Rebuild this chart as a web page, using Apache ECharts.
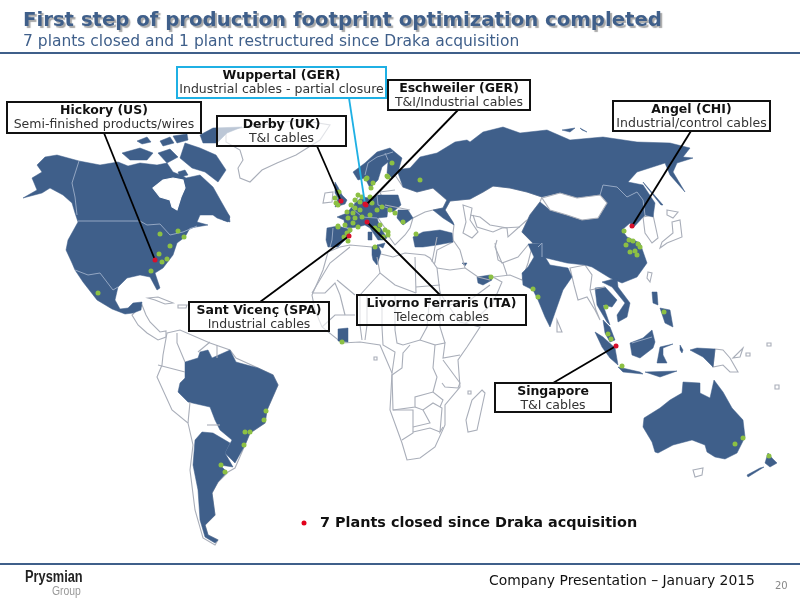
<!DOCTYPE html>
<html>
<head>
<meta charset="utf-8">
<title>Production footprint</title>
<script src="https://cdn.jsdelivr.net/npm/echarts@6/dist/echarts.min.js"></script>
<style>
html,body{margin:0;padding:0;background:#fff;}
#container{width:800px;height:600px;}
</style>
</head>
<body>
<div id="container"></div>
<script>
// map units: x to the right, y downwards (flipped for geojson in toMap)

// countries without plants (white with grey outline)
var outlineLand={
	greenland:[[226,130],[300,120],[330,125],[320,140],[296,155],[277,163],[262,170],[250,182],[240,178],[238,168],[243,160],[240,150],[226,142]],
	ireland:[[325,193],[333,192],[332,202],[323,203]],
	easternEurope:[[395,175],[403,187],[417,192],[433,188],[447,200],[443,208],[433,210],[425,212],[413,218],[410,228],[405,235],[395,245],[390,238],[385,228],[378,218],[385,205],[380,192]],
	centralAsia:[[450,201],[470,199],[483,192],[493,186],[510,188],[527,192],[542,197],[540,202],[530,215],[522,232],[533,243],[528,263],[522,280],[510,275],[493,277],[502,282],[493,303],[480,315],[462,325],[452,325],[445,305],[437,285],[432,270],[435,262],[437,250],[453,242],[453,233],[454,225],[445,210]],
	africa:[[328,252],[340,247],[350,245],[372,247],[381,254],[393,257],[405,253],[425,255],[430,258],[437,268],[440,293],[450,308],[460,322],[480,327],[467,347],[458,360],[460,387],[445,405],[445,425],[435,447],[420,458],[407,460],[402,443],[390,410],[392,373],[383,352],[380,345],[360,342],[342,343],[322,327],[315,310],[312,295],[323,270]],
	madagascar:[[482,390],[485,393],[477,430],[468,432],[466,420],[472,400]],
	korea:[[643,217],[653,215],[658,238],[652,243],[645,233]],
	hokkaido:[[667,210],[678,212],[673,218],[667,215]],
	honshu:[[672,222],[680,220],[682,237],[667,243],[660,248],[662,242],[673,233]],
	taiwan:[[648,272],[652,273],[650,282],[647,278]],
	myanmar:[[570,268],[585,265],[592,275],[590,290],[596,310],[600,320],[595,310],[587,297],[578,300],[574,285]],
	sriLanka:[[557,320],[562,332],[557,332]],
	papua:[[715,349],[723,350],[730,358],[738,372],[730,372],[723,365],[713,367]],
	solomon:[[733,358],[743,348],[740,357]],
	tasmania:[[693,470],[703,468],[702,475],[695,477]],
	centralAmerica:[[142,305],[146,315],[150,322],[160,332],[166,331],[166,337],[158,340],[147,333],[138,325],[132,315]],
	southAmerica:[[167,333],[180,330],[210,343],[230,350],[236,358],[258,368],[273,375],[278,385],[267,410],[265,423],[250,433],[245,445],[235,468],[228,472],[218,482],[212,493],[215,515],[205,525],[208,535],[218,540],[215,545],[203,538],[195,510],[190,470],[193,445],[188,423],[172,410],[157,377],[162,365],[163,355]],
	cuba:[[148,298],[158,297],[173,303],[165,304],[155,300]],
	hispaniola:[[178,305],[187,305],[186,308],[178,308]],
	isleA:[[374,357],[377,357],[377,360],[374,360]],
	isleB:[[468,391],[471,391],[471,394],[468,394]],
	isleC:[[775,385],[779,385],[779,389],[775,389]],
	isleD:[[767,343],[771,343],[771,346],[767,346]],
	isleE:[[746,353],[750,353],[750,356],[746,356]]
};

// countries with plants (blue)
var plantLand={
	northAmerica:[[45,157],[57,155],[79,161],[100,165],[118,162],[128,166],[140,163],[157,165],[167,163],[173,172],[183,176],[186,178],[200,175],[213,187],[222,203],[230,217],[228,222],[217,218],[213,215],[200,215],[197,222],[208,225],[190,228],[185,237],[177,243],[173,255],[163,268],[155,273],[160,288],[157,290],[150,277],[140,275],[127,278],[118,287],[115,300],[120,309],[128,308],[133,303],[142,302],[141,310],[133,313],[125,314],[112,309],[97,300],[83,282],[75,270],[72,263],[66,250],[68,240],[78,222],[75,213],[72,203],[63,195],[50,188],[42,193],[23,198],[37,190],[32,178],[42,172],[37,165]],
	ellesmere:[[200,135],[213,128],[242,127],[227,133],[217,143],[203,143]],
	baffin:[[185,143],[200,148],[216,155],[226,170],[218,182],[205,172],[192,168],[180,158]],
	victoria:[[122,153],[140,148],[153,153],[147,160],[130,160]],
	banks:[[137,141],[147,137],[151,142],[142,144]],
	arcticA:[[160,141],[170,137],[174,143],[163,146]],
	arcticB:[[173,136],[187,134],[188,140],[177,143]],
	arcticC:[[158,153],[170,149],[178,157],[167,163]],
	arcticD:[[178,172],[185,170],[188,175],[180,177]],
	newfoundland:[[220,213],[229,215],[230,222],[223,220]],
	russia:[[395,170],[410,168],[420,157],[437,153],[455,142],[467,140],[470,142],[483,132],[503,127],[520,133],[547,130],[570,140],[603,137],[637,142],[670,143],[690,148],[683,157],[693,158],[677,163],[673,172],[685,192],[670,175],[665,163],[637,172],[628,182],[643,185],[655,203],[653,217],[645,215],[643,200],[637,192],[627,197],[617,187],[603,185],[600,195],[577,198],[560,193],[542,197],[527,192],[510,188],[493,186],[483,192],[470,199],[450,201],[445,210],[453,222],[454,225],[443,218],[433,210],[443,208],[447,200],[433,188],[417,192],[403,187],[398,173]],
	sakhalin:[[643,182],[663,205],[661,205],[645,185]],
	zemlyaA:[[562,130],[575,128],[570,132]],
	zemlyaB:[[580,128],[587,132],[582,130]],
	scandinavia:[[353,172],[358,180],[365,178],[370,188],[378,180],[382,167],[388,162],[387,173],[392,178],[398,172],[402,158],[390,148],[377,152],[365,163]],
	westernEurope:[[337,217],[347,213],[355,203],[362,197],[370,198],[377,195],[398,195],[401,205],[393,212],[388,208],[387,217],[377,218],[380,227],[387,238],[383,240],[378,240],[370,228],[365,225],[358,227],[350,228],[345,227],[344,220]],
	sicily:[[377,245],[385,243],[383,248]],
	sardinia:[[368,232],[372,232],[372,240],[368,240]],
	tunisia:[[372,247],[378,245],[381,252],[378,262],[377,265],[373,260],[372,255]],
	iberia:[[327,228],[338,226],[352,230],[345,240],[338,247],[328,247],[326,240]],
	britain:[[335,182],[338,187],[342,195],[347,200],[345,204],[335,207],[338,198],[335,193]],
	romania:[[398,210],[408,210],[413,218],[403,225],[397,218]],
	turkey:[[413,237],[423,232],[440,230],[452,233],[453,242],[437,245],[423,247],[415,247]],
	uae:[[477,277],[490,275],[492,280],[483,285],[478,283]],
	kuwait:[[462,263],[467,263],[465,266]],
	china:[[540,202],[550,210],[567,215],[582,220],[598,218],[607,203],[600,195],[603,185],[617,187],[627,197],[637,192],[643,200],[645,215],[633,228],[630,223],[622,230],[627,237],[640,243],[647,263],[637,277],[622,283],[610,278],[592,267],[585,265],[567,263],[542,257],[542,243],[533,243],[522,232],[530,215]],
	india:[[528,244],[542,243],[542,252],[550,265],[568,268],[572,277],[563,290],[557,307],[550,327],[545,317],[538,300],[533,290],[523,285],[522,273],[528,267],[534,257]],
	thailand:[[595,288],[605,287],[617,300],[612,307],[603,305],[610,325],[607,322],[597,305]],
	vietnam:[[602,282],[617,278],[618,287],[630,303],[627,317],[618,322],[617,315],[625,303],[612,287]],
	malaysia:[[603,320],[610,327],[615,340],[610,342],[605,333]],
	sumatra:[[595,332],[603,337],[615,348],[618,365],[610,358],[602,347]],
	java:[[618,367],[640,372],[643,374],[623,372]],
	sunda:[[645,372],[677,371],[660,377]],
	borneo:[[630,343],[643,338],[652,330],[655,342],[653,348],[640,358],[632,355]],
	sulawesi:[[657,363],[660,347],[673,344],[663,348],[663,355],[667,363]],
	moluccas:[[680,345],[683,350],[682,353],[680,350]],
	newGuinea:[[690,350],[697,348],[715,349],[713,367],[703,357]],
	luzon:[[652,292],[657,292],[658,305],[653,303]],
	mindanao:[[660,308],[670,310],[673,327],[665,323]],
	australia:[[644,418],[660,408],[670,400],[682,393],[683,382],[700,383],[700,393],[710,398],[714,380],[723,392],[732,408],[743,420],[745,437],[737,453],[725,459],[715,457],[707,452],[705,445],[692,440],[673,445],[658,453],[655,452],[652,442],[643,427]],
	newZealandN:[[768,453],[772,458],[777,463],[770,467],[765,463]],
	newZealandS:[[764,467],[748,477],[747,475],[760,468]],
	ghana:[[338,329],[348,328],[348,342],[338,341]],
	brazil:[[185,362],[198,358],[200,352],[208,350],[212,358],[230,350],[236,362],[258,368],[273,375],[278,385],[267,410],[265,423],[250,433],[245,445],[235,463],[225,453],[232,440],[220,430],[215,420],[210,407],[188,402],[178,392],[180,383],[185,378]],
	argentina:[[195,440],[202,432],[213,433],[230,443],[225,453],[233,467],[220,465],[227,472],[218,482],[212,493],[215,515],[205,525],[208,535],[218,540],[215,543],[205,537],[200,520],[198,490],[193,465]]
};

// water and gaps that sit on top of the land
var whiteLand={
	mongolia:[[542,198],[560,193],[577,198],[600,195],[607,203],[598,218],[582,220],[567,215],[550,210]],
	caspian:[[463,205],[472,208],[470,220],[478,232],[472,238],[463,233],[466,222]]
};
var hudsonBay=[[153,188],[163,180],[173,178],[183,180],[185,188],[181,197],[177,210],[172,207],[170,200],[160,197]];

var greyBorders=[
	[[350,247],[330,263],[312,293]],[[377,257],[380,273],[395,285],[416,293]],[[415,257],[416,293]],[[416,287],[440,285]],
	[[337,280],[355,295]],[[380,273],[360,295]],[[312,293],[325,293],[335,283],[340,295]],[[322,327],[335,315],[355,315]],[[340,295],[345,315]],
	[[360,295],[360,325],[362,340]],[[367,295],[367,325],[365,340]],[[382,295],[382,327],[383,345],[395,352],[392,373]],
	[[395,295],[395,330],[397,343],[403,345],[420,340],[435,345],[433,368],[437,377],[433,392]],[[435,345],[445,343],[443,358],[460,355]],
	[[440,295],[440,327],[445,343]],[[420,340],[427,327],[430,295]],[[392,375],[402,368],[403,353],[410,345]],
	[[392,375],[393,410],[413,410],[413,433],[402,440]],[[393,410],[415,407],[415,397],[433,392],[443,400],[440,407]],
	[[415,407],[423,410],[433,403],[442,408],[440,432],[443,427]],[[423,410],[430,423],[413,427]],[[413,432],[430,428],[440,432]],
	[[443,360],[460,383],[458,388],[445,387],[442,383]],
	[[470,215],[480,217],[490,225],[507,228],[508,237],[527,220]],[[473,215],[477,227],[493,232],[502,228],[520,227]],
	[[497,240],[495,247],[502,263],[518,257],[528,245]],[[495,243],[498,260],[503,263],[507,275]],
	[[437,237],[432,262]],[[453,240],[460,250],[465,268],[478,277],[490,280]],[[437,268],[450,270],[465,268]],[[450,305],[470,300],[490,285]],
	[[158,365],[185,372]],[[177,333],[177,343],[185,362]],[[198,352],[210,342]],[[217,345],[217,358]],
	[[190,402],[188,423]],[[207,425],[220,425]],[[590,290],[605,287]],[[380,192],[395,190]],[[385,205],[410,210]]
];
var lightBorders=[
	[[78,221],[140,221],[147,225],[160,224],[170,235],[183,232],[197,226]],[[79,161],[72,183],[75,197],[77,215]],
	[[75,270],[88,275],[100,273],[113,290],[118,287]],
	[[365,175],[368,163],[377,157],[393,152]],[[388,160],[385,153]],[[333,228],[332,240],[330,247]],
	[[358,197],[352,208],[362,217]],[[377,195],[378,205],[388,208]],[[362,217],[377,218]],
	[[600,195],[603,185],[617,187],[627,197],[637,192],[643,200],[645,215]],[[538,247],[542,243],[542,257]],
	[[632,343],[652,337]]
];

// plants still running
var openPlants=[[160,234],[178,231],[184,237],[170,246],[159,254],[167,259],[162,262],[151,271],[98,293],
	[392,163],[387,176],[366,179],[373,183],[371,188],[420,180],[339,192],[335,198],[336,203],[338,205],
	[358,195],[362,197],[355,200],[360,202],[370,197],[351,205],[355,208],[347,212],[353,213],[360,210],[348,218],[355,218],[362,217],[345,225],[353,223],[358,227],[338,227],
	[372,203],[377,210],[382,207],[390,210],[395,213],[370,215],[367,178],[388,177],[380,225],[385,230],[388,232],[375,247],[348,241],[347,233],
	[403,222],[416,234],[388,235],[383,237],[375,228],[378,230],[338,226],[350,230],[344,237],[342,342],
	[624,231],[629,240],[633,241],[626,245],[638,244],[640,247],[630,252],[635,251],[637,255],
	[491,277],[533,289],[538,297],[606,307],[608,334],[611,339],[664,312],[622,366],[743,438],[735,444],[769,456],
	[266,411],[264,420],[245,432],[250,432],[244,445],[221,465],[225,472]];

// closed plants
var plantNames=['Hickory (US)','Derby (UK)','Wuppertal (GER)','Eschweiler (GER)','Angel (CHI)','Sant Vicenç (SPA)','Livorno Ferraris (ITA)','Singapore'];
var plantProducts=['Semi-finished products/wires','T&I cables','Industrial cables - partial closure','T&I/Industrial cables','Industrial/control cables','Industrial cables','Telecom cables','T&I cables'];
var plantCoords=[[155,260],[341,201],[365,204],[366,205],[632,226],[349,236],[367,222],[616,346]];
var leaderStarts=[[104,133],[317,146],[349,98],[458,110],[691,131],[260,302],[440,295],[553,383]];
var boxRects=[[7,102,194,31],[217,116,129,30],[177,67,209,31],[388,80,142,30],[613,101,157,30],[189,302,140,29],[357,295,169,30],[495,383,116,29]];

var titleText='First step of production footprint optimization completed';
var subtitleText='7 plants closed and 1 plant restructured since Draka acquisition';
var legendText='7 Plants closed since Draka acquisition';
var footerText='Company Presentation – January 2015';
var pageNumber='20';

var BLUE='#3f5f8a', GREY='#a9aeb9', LIGHT='#93a6c2', FONT='"DejaVu Sans",Verdana,sans-serif';

function toMap(p){return [p[0],-p[1]];}
function ring(points){return points.map(toMap).concat([toMap(points[0])]);}

var features=[], regions=[];
function addLand(list,fill,line){
	for(var name in list){
		features.push({type:'Feature',properties:{name:name},geometry:{type:'Polygon',coordinates:[ring(list[name])]}});
		regions.push({name:name,itemStyle:{areaColor:fill,borderColor:line,borderWidth:line==BLUE?0.5:1.1}});
	}
}
addLand(outlineLand,'#fff',GREY);
addLand(plantLand,BLUE,BLUE);
addLand(whiteLand,'#fff',GREY);
addLand({hudsonBay:hudsonBay},'#fff','#fff');

echarts.registerMap('footprint',{type:'FeatureCollection',features:features});

function lineData(list){
	return list.map(function(l){return {coords:l.map(toMap)};});
}

var leaders=[];
for(var i=0;i<plantCoords.length;i++){
	leaders.push({
		coords:[toMap(leaderStarts[i]),toMap(plantCoords[i])],
		lineStyle:{color:i==2?'#1fb0e4':'#000',width:1.8,opacity:1}
	});
}

var graphics=[
	{type:'rect',z:100,shape:{x:0,y:52,width:800,height:2},style:{fill:BLUE}},
	{type:'rect',z:100,shape:{x:0,y:563,width:800,height:2},style:{fill:BLUE}},
	{type:'text',z:100,x:23,y:11,style:{text:titleText,font:'bold 19.7px '+FONT,fill:BLUE,textShadowColor:'#a8a8a8',textShadowOffsetX:2,textShadowOffsetY:2,textShadowBlur:1}},
	{type:'text',z:100,x:23,y:34,style:{text:subtitleText,font:'15.5px '+FONT,fill:BLUE}},
	{type:'circle',z:100,shape:{cx:304,cy:523,r:2.5},style:{fill:'#e2001a'}},
	{type:'text',z:100,x:320,y:516,style:{text:legendText,font:'bold 14.4px '+FONT,fill:'#111'}},
	{type:'text',z:100,x:489,y:574,style:{text:footerText,font:'13.9px '+FONT,fill:'#111'}},
	{type:'text',z:100,x:775,y:581,style:{text:pageNumber,font:'10px '+FONT,fill:'#888'}},
	{type:'text',z:100,x:25,y:570,scaleX:0.8,style:{text:'Prysmian',font:'bold 16px "Liberation Sans",sans-serif',fill:'#222'}},
	{type:'text',z:100,x:52,y:585,scaleX:0.8,style:{text:'Group',font:'13px "Liberation Sans",sans-serif',fill:'#999'}}
];
for(var j=0;j<boxRects.length;j++){
	var b=boxRects[j];
	graphics.push({type:'rect',z:100,shape:{x:b[0],y:b[1],width:b[2],height:b[3]},
		style:{fill:'rgba(255,255,255,0.65)',stroke:j==2?'#1fb0e4':'#111',lineWidth:2}});
	graphics.push({type:'text',z:101,x:b[0]+b[2]/2,y:b[1]+9,style:{text:plantNames[j],font:'bold 12.5px '+FONT,fill:'#111',textAlign:'center',textVerticalAlign:'middle'}});
	graphics.push({type:'text',z:101,x:b[0]+b[2]/2,y:b[1]+23,style:{text:plantProducts[j],font:'12.5px '+FONT,fill:'#333',textAlign:'center',textVerticalAlign:'middle'}});
}

var option={
	backgroundColor:'#fff',
	animation:false,
	geo:{
		map:'footprint',
		roam:false,
		silent:true,
		aspectScale:1,
		boundingCoords:[[0,0],[800,-600]],
		left:0,top:0,width:800,height:600,
		label:{show:false},
		itemStyle:{areaColor:'#fff',borderColor:GREY,borderWidth:1},
		regions:regions
	},
	series:[
		{type:'lines',coordinateSystem:'geo',polyline:true,silent:true,z:2,data:lineData(greyBorders),lineStyle:{color:GREY,width:1.1,opacity:1}},
		{type:'lines',coordinateSystem:'geo',polyline:true,silent:true,z:3,data:lineData(lightBorders),lineStyle:{color:LIGHT,width:1,opacity:1}},
		{type:'scatter',name:'open',coordinateSystem:'geo',silent:true,z:4,symbolSize:5,data:openPlants.map(toMap),itemStyle:{color:'#8cc044',opacity:1}},
		{type:'lines',coordinateSystem:'geo',polyline:false,silent:true,z:5,data:leaders},
		{type:'scatter',name:'closed',coordinateSystem:'geo',silent:true,z:6,symbolSize:5,data:plantCoords.map(toMap),itemStyle:{color:'#d8102c',opacity:1}}
	],
	graphic:graphics
};

var mychart=echarts.init(document.getElementById("container"));
mychart.setOption(option);
</script>
</body>
</html>
